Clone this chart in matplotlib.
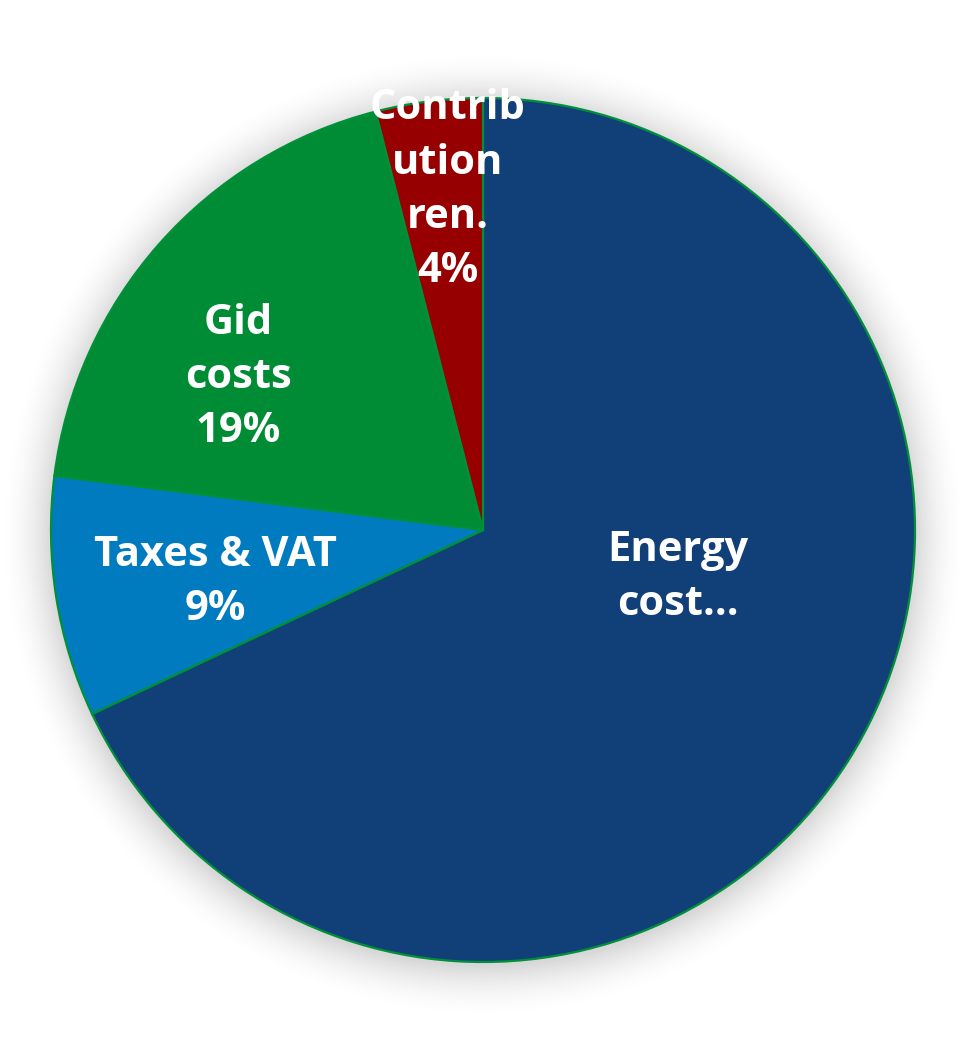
import numpy as np
import matplotlib.pyplot as plt

labels = ["Energy\ncost...", "Taxes & VAT\n9%", "Gid\ncosts\n19%", "Contrib\nution\nren.\n4%"]
shares = [68, 9, 19, 4]
colors = ["#114078", "#007BBF", "#008C35", "#960000"]
# label anchor points inside the pie (radius units)
label_pos = [(0.451, -0.109), (-0.620, -0.122), (-0.567, 0.354), (-0.081, 0.787)]

W, H = 965, 1059
cx, cy, R = 483, 530, 432

fig = plt.figure(figsize=(W / 100, H / 100), dpi=100)
ax = fig.add_axes([0, 0, 1, 1])

wedges, _ = ax.pie(shares, colors=colors, startangle=90, counterclock=False,
                   radius=1.0, center=(0, 0),
                   wedgeprops=dict(edgecolor="#00903A", linewidth=1.6))
for w in wedges:
    w.set_zorder(2)

# soft drop shadow round the pie
gx = np.linspace(-cx / R, (W - cx) / R, 400)
gy = np.linspace(-(H - cy) / R, cy / R, 440)
X, Y = np.meshgrid(gx, gy)
d = np.sqrt(X ** 2 + (Y + 0.01) ** 2) - 1.0
shade = np.clip(1 - d / 0.13, 0, 1) ** 2 * 0.16
rgba = np.zeros(X.shape + (4,))
rgba[..., 3] = shade
ax.imshow(rgba, extent=(gx[0], gx[-1], gy[0], gy[-1]), origin="lower",
          zorder=0, interpolation="bilinear")

# pie() and imshow() reset the limits, so set them afterwards
ax.set_xlim(-cx / R, (W - cx) / R)
ax.set_ylim(-(H - cy) / R, cy / R)
ax.set_aspect("equal")
ax.axis("off")

for txt, (x, y) in zip(labels, label_pos):
    ax.text(x, y, txt, ha="center", va="center", color="white",
            fontsize=30, fontweight="bold", family=["Open Sans", "DejaVu Sans"],
            linespacing=1.42, zorder=3)

fig.savefig("out.png", dpi=100)
